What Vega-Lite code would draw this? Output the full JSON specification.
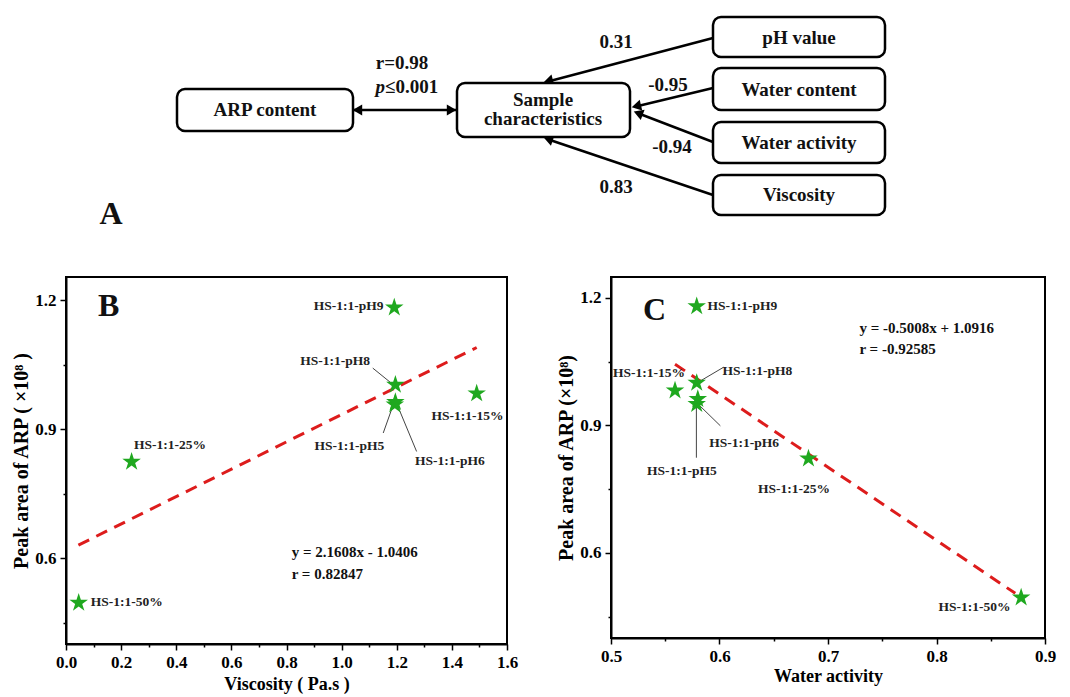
{
  "$schema": "https://vega.github.io/schema/vega-lite/v6.json",
  "background": "white",
  "padding": {"left": 10, "top": 0, "right": 0, "bottom": 0},
  "spacing": 36,
  "config": {
    "font": "Liberation Serif",
    "view": {"stroke": null},
    "axis": {
      "domainColor": "black", "domainWidth": 2,
      "tickColor": "black", "tickWidth": 1.5,
      "labelFont": "Liberation Serif", "labelFontWeight": "bold", "labelFontSize": 17, "labelColor": "black",
      "titleFont": "Liberation Serif", "titleFontWeight": "bold", "titleColor": "black",
      "grid": false, "labelFlush": false, "labelOverlap": false
    }
  },
  "datasets": {
    "boxes": [
      {"x": 177, "x2": 353, "y": 89, "y2": 131},
      {"x": 457, "x2": 630, "y": 83, "y2": 137},
      {"x": 713, "x2": 885, "y": 17, "y2": 57},
      {"x": 713, "x2": 885, "y": 68, "y2": 110},
      {"x": 713, "x2": 885, "y": 122, "y2": 163},
      {"x": 713, "x2": 885, "y": 175, "y2": 215}
    ],
    "boxText": [
      {"label": "ARP content", "x": 265, "y": 110},
      {"label": "Sample", "x": 543, "y": 100},
      {"label": "characteristics", "x": 543, "y": 119},
      {"label": "pH value", "x": 799, "y": 38},
      {"label": "Water content", "x": 799, "y": 90},
      {"label": "Water activity", "x": 799, "y": 143},
      {"label": "Viscosity", "x": 799, "y": 195}
    ],
    "arrows": [
      {"x": 353, "y": 110, "x2": 456, "y2": 110},
      {"x": 713, "y": 38, "x2": 550, "y2": 81},
      {"x": 713, "y": 88, "x2": 638, "y2": 106},
      {"x": 713, "y": 142, "x2": 640, "y2": 114},
      {"x": 713, "y": 195, "x2": 550, "y2": 140}
    ],
    "heads": [
      {"x": 450, "y": 110, "angle": 90},
      {"x": 359, "y": 110, "angle": 270},
      {"x": 549.8, "y": 80.7, "angle": 255.3},
      {"x": 637.9, "y": 105.8, "angle": 256.6},
      {"x": 639.7, "y": 113.8, "angle": 290.6},
      {"x": 549.7, "y": 139.6, "angle": 288.7}
    ],
    "coefText": [
      {"label": "r=0.98", "x": 402, "y": 63},
      {"label": "0.31", "x": 616, "y": 42},
      {"label": "-0.95", "x": 668, "y": 85},
      {"label": "-0.94", "x": 672, "y": 147},
      {"label": "0.83", "x": 616, "y": 187}
    ],
    "pItalic": [{"label": "p", "x": 385, "y": 87}],
    "pRest": [{"label": "≤0.001", "x": 385, "y": 87}],
    "letterA": [{"label": "A", "x": 111, "y": 214}],
    "pointsB": [
      {"sample": "HS-1:1-pH9", "x": 1.191, "y": 1.183},
      {"sample": "HS-1:1-pH8", "x": 1.195, "y": 1.003},
      {"sample": "HS-1:1-pH5", "x": 1.193, "y": 0.957},
      {"sample": "HS-1:1-pH6", "x": 1.195, "y": 0.963},
      {"sample": "HS-1:1-15%", "x": 1.49, "y": 0.983},
      {"sample": "HS-1:1-25%", "x": 0.238, "y": 0.824},
      {"sample": "HS-1:1-50%", "x": 0.046, "y": 0.496}
    ],
    "labelsB": [
      {"label": "HS-1:1-pH9", "x": 1.025, "y": 1.187},
      {"label": "HS-1:1-pH8", "x": 0.976, "y": 1.059},
      {"label": "HS-1:1-15%", "x": 1.457, "y": 0.931},
      {"label": "HS-1:1-pH5", "x": 1.028, "y": 0.86},
      {"label": "HS-1:1-pH6", "x": 1.393, "y": 0.826},
      {"label": "HS-1:1-25%", "x": 0.377, "y": 0.863},
      {"label": "HS-1:1-50%", "x": 0.22, "y": 0.498}
    ],
    "leadersB": [
      {"x": 1.113, "y": 1.042, "x2": 1.188, "y2": 1.003},
      {"x": 1.151, "y": 0.891, "x2": 1.182, "y2": 0.947},
      {"x": 1.272, "y": 0.848, "x2": 1.206, "y2": 0.95}
    ],
    "fitB": [{"x": 0.045, "y": 0.63}, {"x": 1.49, "y": 1.09}],
    "eqB": [
      {"label": "y = 2.1608x - 1.0406", "x": 0.819, "y": 0.614},
      {"label": "r =  0.82847", "x": 0.819, "y": 0.562}
    ],
    "letterB": [{"label": "B", "x": 0.116, "y": 1.187}],
    "pointsC": [
      {"sample": "HS-1:1-pH9", "x": 0.579, "y": 1.18},
      {"sample": "HS-1:1-pH8", "x": 0.579, "y": 1.0},
      {"sample": "HS-1:1-pH5", "x": 0.579, "y": 0.95},
      {"sample": "HS-1:1-pH6", "x": 0.58, "y": 0.962},
      {"sample": "HS-1:1-15%", "x": 0.559, "y": 0.982},
      {"sample": "HS-1:1-25%", "x": 0.682, "y": 0.822},
      {"sample": "HS-1:1-50%", "x": 0.878, "y": 0.495}
    ],
    "labelsC": [
      {"label": "HS-1:1-pH9", "x": 0.621, "y": 1.18},
      {"label": "HS-1:1-15%", "x": 0.535, "y": 1.024},
      {"label": "HS-1:1-pH8", "x": 0.635, "y": 1.028},
      {"label": "HS-1:1-pH6", "x": 0.6226, "y": 0.859},
      {"label": "HS-1:1-pH5", "x": 0.5654, "y": 0.793},
      {"label": "HS-1:1-25%", "x": 0.6687, "y": 0.75},
      {"label": "HS-1:1-50%", "x": 0.835, "y": 0.474}
    ],
    "leadersC": [
      {"x": 0.6039, "y": 1.037, "x2": 0.5787, "y2": 0.999},
      {"x": 0.6008, "y": 0.899, "x2": 0.5787, "y2": 0.954},
      {"x": 0.5787, "y": 0.824, "x2": 0.5787, "y2": 0.954}
    ],
    "fitC": [{"x": 0.559, "y": 1.044}, {"x": 0.8726, "y": 0.505}],
    "eqC": [
      {"label": "y = -0.5008x + 1.0916", "x": 0.729, "y": 1.13},
      {"label": "r =  -0.92585", "x": 0.729, "y": 1.079}
    ],
    "letterC": [{"label": "C", "x": 0.5295, "y": 1.171}]
  },
  "vconcat": [
    {
      "width": 1004,
      "height": 240,
      "view": {"stroke": null},
      "encoding": {
        "x": {"field": "x", "type": "quantitative", "scale": {"domain": [66, 1070], "nice": false, "zero": false}, "axis": null},
        "y": {"field": "y", "type": "quantitative", "scale": {"domain": [0, 240], "nice": false, "zero": false, "reverse": true}, "axis": null}
      },
      "layer": [
        {
          "data": {"name": "arrows"},
          "mark": {"type": "rule", "color": "black", "strokeWidth": 2.5},
          "encoding": {"x2": {"field": "x2"}, "y2": {"field": "y2"}}
        },
        {
          "data": {"name": "heads"},
          "mark": {"type": "point", "shape": "triangle", "filled": true, "color": "black", "opacity": 1, "size": 120},
          "encoding": {"angle": {"field": "angle", "type": "quantitative", "scale": null}}
        },
        {
          "data": {"name": "boxes"},
          "mark": {"type": "rect", "cornerRadius": 8, "fill": "white", "stroke": "black", "strokeWidth": 2.5},
          "encoding": {"x2": {"field": "x2"}, "y2": {"field": "y2"}}
        },
        {
          "data": {"name": "boxText"},
          "mark": {"type": "text", "font": "Liberation Serif", "fontWeight": "bold", "fontSize": 19, "color": "#111", "align": "center", "baseline": "middle"},
          "encoding": {"text": {"field": "label"}}
        },
        {
          "data": {"name": "coefText"},
          "mark": {"type": "text", "font": "Liberation Serif", "fontWeight": "bold", "fontSize": 19, "color": "#111", "align": "center", "baseline": "middle"},
          "encoding": {"text": {"field": "label"}}
        },
        {
          "data": {"name": "pItalic"},
          "mark": {"type": "text", "font": "Liberation Serif", "fontWeight": "bold", "fontStyle": "italic", "fontSize": 19, "color": "#111", "align": "right", "baseline": "middle"},
          "encoding": {"text": {"field": "label"}}
        },
        {
          "data": {"name": "pRest"},
          "mark": {"type": "text", "font": "Liberation Serif", "fontWeight": "bold", "fontSize": 19, "color": "#111", "align": "left", "baseline": "middle"},
          "encoding": {"text": {"field": "label"}}
        },
        {
          "data": {"name": "letterA"},
          "mark": {"type": "text", "font": "Liberation Serif", "fontWeight": "bold", "fontSize": 32, "color": "#111", "align": "center", "baseline": "middle"},
          "encoding": {"text": {"field": "label"}}
        }
      ]
    },
    {
      "hconcat": [
        {
          "width": 441,
          "height": 367,
          "view": {"stroke": "black", "strokeWidth": 2},
          "encoding": {
            "x": {
              "field": "x", "type": "quantitative",
              "scale": {"domain": [0, 1.6], "nice": false, "zero": false},
              "axis": {
                "title": "Viscosity ( Pa.s )", "titleFontSize": 18, "titlePadding": 5,
                "values": [0, 0.1, 0.2, 0.3, 0.4, 0.5, 0.6, 0.7, 0.8, 0.9, 1.0, 1.1, 1.2, 1.3, 1.4, 1.5, 1.6],
                "labelExpr": "round(datum.value*10) % 2 == 0 ? format(datum.value, '.1f') : ''",
                "tickSize": {"condition": {"test": "round(datum.value*10) % 2 != 0", "value": 3}, "value": 6},
                "labelPadding": 4
              }
            },
            "y": {
              "field": "y", "type": "quantitative",
              "scale": {"domain": [0.4, 1.254], "nice": false, "zero": false},
              "axis": {
                "title": "Peak area of ARP ( ×10⁸ )", "titleFontSize": 20, "titlePadding": 3,
                "values": [0.45, 0.6, 0.75, 0.9, 1.05, 1.2],
                "labelExpr": "round(datum.value*100) % 30 == 0 ? format(datum.value, '.1f') : ''",
                "tickSize": {"condition": {"test": "round(datum.value*100) % 30 != 0", "value": 3}, "value": 6},
                "labelPadding": 4
              }
            }
          },
          "layer": [
            {
              "data": {"name": "fitB"},
              "mark": {"type": "line", "color": "#dd1c1c", "strokeWidth": 3, "strokeDash": [12, 8]}
            },
            {
              "data": {"name": "leadersB"},
              "mark": {"type": "rule", "color": "#444", "strokeWidth": 1},
              "encoding": {"x2": {"field": "x2"}, "y2": {"field": "y2"}}
            },
            {
              "data": {"name": "pointsB"},
              "mark": {"type": "point", "shape": "M0,-1L0.2245,-0.309L0.951,-0.309L0.363,0.118L0.588,0.809L0,0.382L-0.588,0.809L-0.363,0.118L-0.951,-0.309L-0.2245,-0.309Z", "filled": true, "color": "#1fa81f", "opacity": 1, "size": 380}
            },
            {
              "data": {"name": "labelsB"},
              "mark": {"type": "text", "font": "Liberation Serif", "fontWeight": "bold", "fontSize": 13.5, "color": "#222", "align": "center", "baseline": "middle"},
              "encoding": {"text": {"field": "label"}}
            },
            {
              "data": {"name": "eqB"},
              "mark": {"type": "text", "font": "Liberation Serif", "fontWeight": "bold", "fontSize": 15, "color": "#111", "align": "left", "baseline": "middle"},
              "encoding": {"text": {"field": "label"}}
            },
            {
              "data": {"name": "letterB"},
              "mark": {"type": "text", "font": "Liberation Serif", "fontWeight": "bold", "fontSize": 32, "color": "#111", "align": "left", "baseline": "middle"},
              "encoding": {"text": {"field": "label"}}
            }
          ]
        },
        {
          "width": 434,
          "height": 361,
          "view": {"stroke": "black", "strokeWidth": 2},
          "encoding": {
            "x": {
              "field": "x", "type": "quantitative",
              "scale": {"domain": [0.5, 0.9], "nice": false, "zero": false},
              "axis": {
                "title": "Water activity", "titleFontSize": 18, "titlePadding": 3,
                "values": [0.5, 0.55, 0.6, 0.65, 0.7, 0.75, 0.8, 0.85, 0.9],
                "labelExpr": "round(datum.value*100) % 10 == 0 ? format(datum.value, '.1f') : ''",
                "tickSize": {"condition": {"test": "round(datum.value*100) % 10 != 0", "value": 3}, "value": 6},
                "labelPadding": 4
              }
            },
            "y": {
              "field": "y", "type": "quantitative",
              "scale": {"domain": [0.4, 1.249], "nice": false, "zero": false},
              "axis": {
                "title": "Peak area of ARP (×10⁸)", "titleFontSize": 20, "titlePadding": 3,
                "values": [0.45, 0.6, 0.75, 0.9, 1.05, 1.2],
                "labelExpr": "round(datum.value*100) % 30 == 0 ? format(datum.value, '.1f') : ''",
                "tickSize": {"condition": {"test": "round(datum.value*100) % 30 != 0", "value": 3}, "value": 6},
                "labelPadding": 4
              }
            }
          },
          "layer": [
            {
              "data": {"name": "fitC"},
              "mark": {"type": "line", "color": "#dd1c1c", "strokeWidth": 3, "strokeDash": [12, 8]}
            },
            {
              "data": {"name": "leadersC"},
              "mark": {"type": "rule", "color": "#444", "strokeWidth": 1},
              "encoding": {"x2": {"field": "x2"}, "y2": {"field": "y2"}}
            },
            {
              "data": {"name": "pointsC"},
              "mark": {"type": "point", "shape": "M0,-1L0.2245,-0.309L0.951,-0.309L0.363,0.118L0.588,0.809L0,0.382L-0.588,0.809L-0.363,0.118L-0.951,-0.309L-0.2245,-0.309Z", "filled": true, "color": "#1fa81f", "opacity": 1, "size": 380}
            },
            {
              "data": {"name": "labelsC"},
              "mark": {"type": "text", "font": "Liberation Serif", "fontWeight": "bold", "fontSize": 13.5, "color": "#222", "align": "center", "baseline": "middle"},
              "encoding": {"text": {"field": "label"}}
            },
            {
              "data": {"name": "eqC"},
              "mark": {"type": "text", "font": "Liberation Serif", "fontWeight": "bold", "fontSize": 15, "color": "#111", "align": "left", "baseline": "middle"},
              "encoding": {"text": {"field": "label"}}
            },
            {
              "data": {"name": "letterC"},
              "mark": {"type": "text", "font": "Liberation Serif", "fontWeight": "bold", "fontSize": 32, "color": "#111", "align": "left", "baseline": "middle"},
              "encoding": {"text": {"field": "label"}}
            }
          ]
        }
      ],
      "spacing": 36
    }
  ]
}
